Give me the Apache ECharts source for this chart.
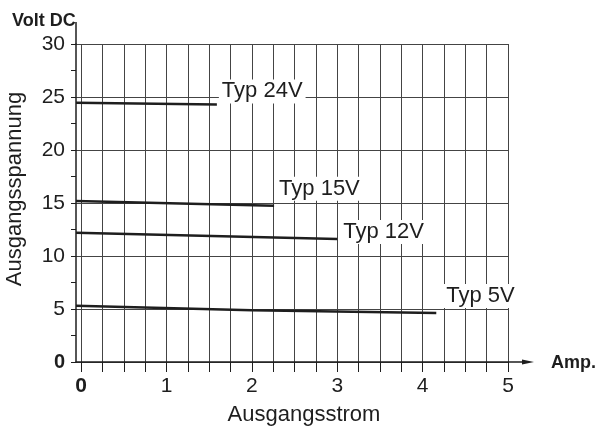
<!DOCTYPE html>
<html>
<head>
<meta charset="utf-8">
<script src="https://cdn.jsdelivr.net/npm/echarts@6/dist/echarts.min.js"></script>
<style>
html, body { margin: 0; padding: 0; background: #fff; }
#main { width: 598px; height: 430px; }
</style>
</head>
<body>
<div id="main"></div>
<script>
// Ausgangskennlinien: [Strom A, Spannung V]
var typ24 = [[-0.06, 24.45], [1.59, 24.3]];
var typ15 = [[-0.06, 15.2], [2.26, 14.75]];
var typ12 = [[-0.06, 12.2], [3.0, 11.6]];
var typ5 = [[-0.06, 5.3], [2.0, 4.88], [4.16, 4.62]];
var seriesNames = ['Typ 24V', 'Typ 15V', 'Typ 12V', 'Typ 5V'];

var xTicks = [0, 0.25, 0.5, 0.75, 1, 1.25, 1.5, 1.75, 2, 2.25, 2.5, 2.75, 3, 3.25, 3.5, 3.75, 4, 4.25, 4.5, 4.75, 5];
var xLabels = [0, 1, 2, 3, 4, 5];

var FONT = '"Liberation Sans", Arial, sans-serif';
var INK = '#1e1e1e';

function curve(name, data, offset) {
  return {
    name: name,
    type: 'line',
    data: data,
    symbol: 'none',
    silent: true,
    lineStyle: { color: INK, width: 2.5 },
    endLabel: {
      show: true,
      formatter: name,
      distance: 5,
      offset: offset,
      color: INK,
      fontSize: 22,
      fontFamily: FONT,
      backgroundColor: '#fff',
      padding: [1, 3]
    }
  };
}

var chart = echarts.init(document.getElementById('main'), null, { renderer: 'canvas' });

var option = {
  animation: false,
  backgroundColor: '#fff',
  grid: { left: 76, right: 90, top: 44, bottom: 68, containLabel: false, outerBoundsMode: 'none' },
  xAxis: {
    type: 'value',
    min: -0.06,
    max: 5,
    axisLine: { onZero: false, lineStyle: { color: INK, width: 1.5 } },
    axisTick: { customValues: xTicks, length: 10, lineStyle: { color: INK } },
    splitLine: { show: true, lineStyle: { color: '#444', width: 1 } },
    axisLabel: {
      customValues: xLabels,
      margin: 14,
      fontSize: 21,
      color: INK,
      fontFamily: FONT,
      formatter: function (v) { return v === 0 ? '{b|0}' : String(v); },
      rich: { b: { fontSize: 21, fontWeight: 'bold', fontFamily: FONT, color: INK } }
    },
    name: 'Ausgangsstrom',
    nameLocation: 'middle',
    nameGap: 42,
    nameTextStyle: { fontSize: 22, color: INK, fontFamily: FONT, padding: [0, 0, 0, 24] }
  },
  yAxis: {
    type: 'value',
    min: 0,
    max: 30,
    interval: 5,
    axisLine: { show: true, onZero: false, lineStyle: { color: INK, width: 1.5 } },
    axisTick: { show: true, length: 5, lineStyle: { color: INK } },
    minorTick: { show: true, splitNumber: 2, length: 5, lineStyle: { color: INK } },
    splitLine: { show: true, lineStyle: { color: '#444', width: 1 } },
    axisLabel: {
      margin: 11,
      fontSize: 21,
      color: INK,
      fontFamily: FONT,
      formatter: function (v) { return v === 0 ? '{b|0}' : String(v); },
      rich: { b: { fontSize: 20, fontWeight: 'bold', fontFamily: FONT, color: INK } }
    },
    name: 'Ausgangsspannung',
    nameLocation: 'middle',
    nameGap: 50,
    nameTextStyle: { fontSize: 22, color: INK, fontFamily: FONT, padding: [0, 0, 0, 28] }
  },
  series: [
    curve(seriesNames[0], typ24, [-3, -13]),
    curve(seriesNames[1], typ15, [-3, -17]),
    curve(seriesNames[2], typ12, [-2, -7]),
    curve(seriesNames[3], typ5, [2, -17])
  ]
};

chart.setOption(option);

// Achsverlängerungen, Pfeil und Einheiten
var topLeft = chart.convertToPixel({ gridIndex: 0 }, [-0.06, 30]);
var bottomRight = chart.convertToPixel({ gridIndex: 0 }, [5, 0]);
var ax = bottomRight[0], ay = bottomRight[1];

chart.setOption({
  graphic: [
    { type: 'line', shape: { x1: topLeft[0], y1: topLeft[1], x2: topLeft[0], y2: topLeft[1] - 22 },
      style: { stroke: INK, lineWidth: 1.5 } },
    { type: 'line', shape: { x1: ax, y1: ay, x2: ax + 20, y2: ay },
      style: { stroke: INK, lineWidth: 1.5 } },
    { type: 'polygon', shape: { points: [[ax + 14, ay - 2.5], [ax + 26, ay], [ax + 14, ay + 2.5]] },
      style: { fill: INK } },
    { type: 'text', x: 12, y: 21,
      style: { text: 'Volt DC', font: 'bold 18px ' + FONT, fill: INK, verticalAlign: 'middle' } },
    { type: 'text', x: 551, y: 363,
      style: { text: 'Amp.', font: 'bold 18px ' + FONT, fill: INK, verticalAlign: 'middle' } }
  ]
});
</script>
</body>
</html>
